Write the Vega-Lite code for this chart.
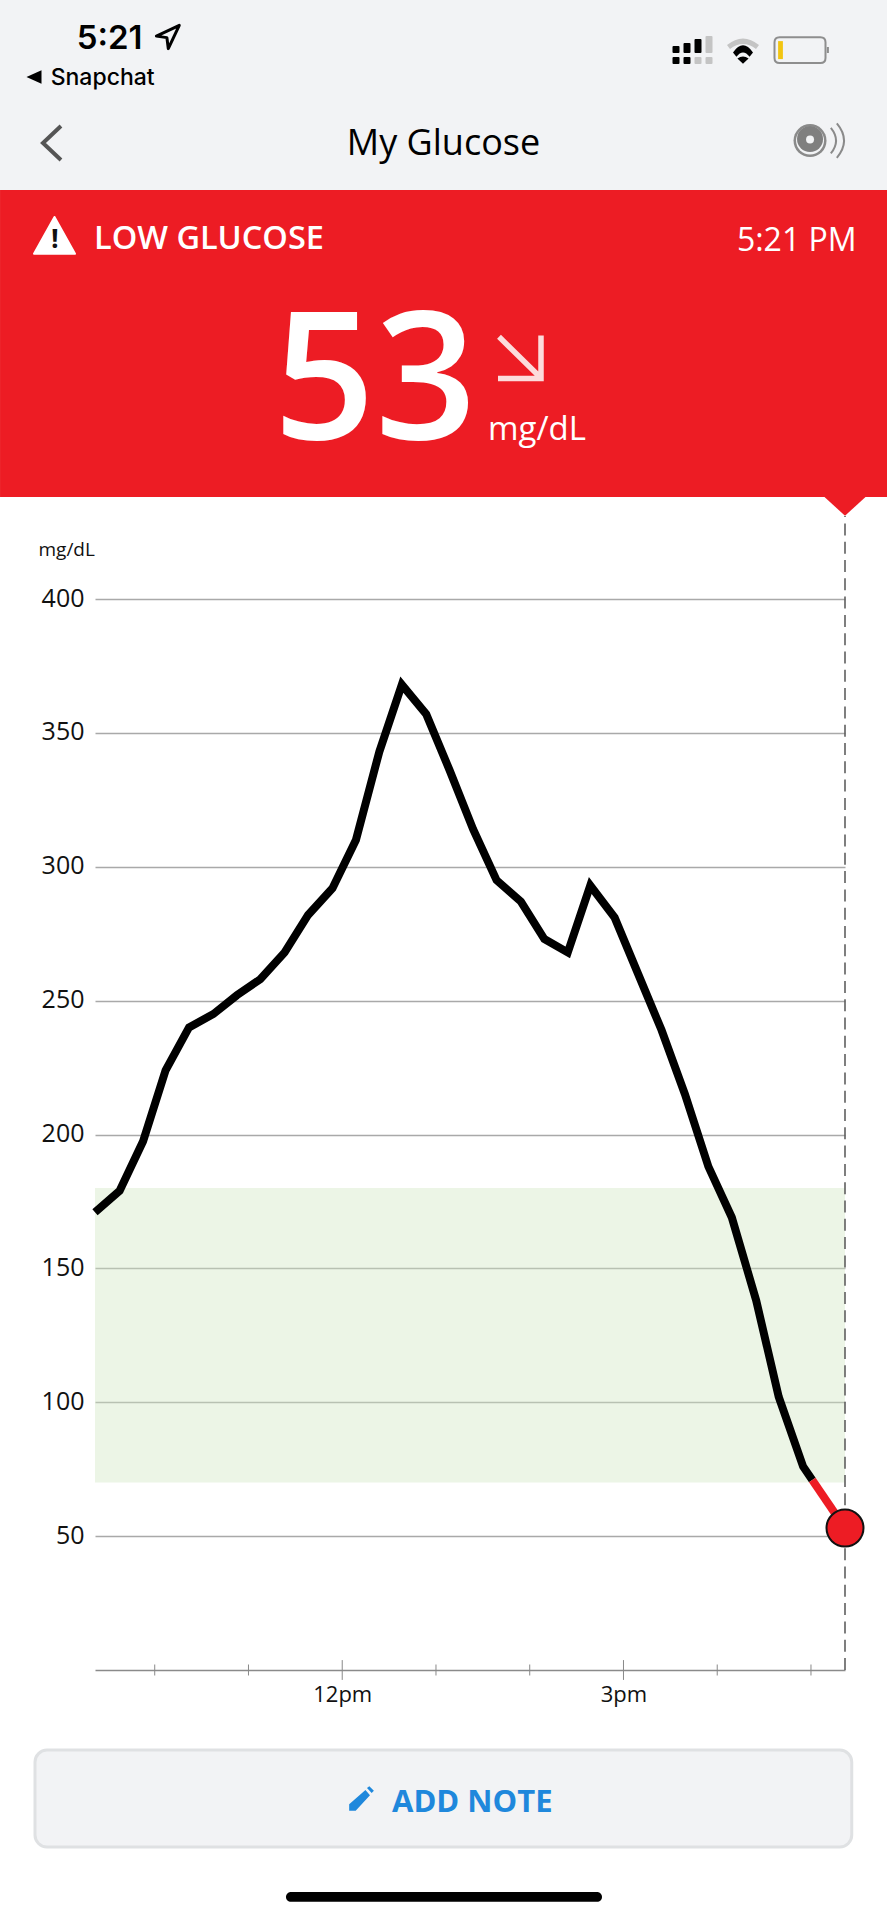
{
  "$schema": "https://vega.github.io/schema/vega-lite/v6.json",
  "width": 750,
  "height": 1071,
  "autosize": {"type": "none"},
  "padding": {"left": 95, "top": 599, "right": 42, "bottom": 249},
  "background": "white",
  "config": {"font": "Open Sans", "view": {"stroke": null}},
  "data": {"values": [{}]},
  "datasets": {
    "glucose": [
      {"hour": 9.363, "mgdl": 171, "zone": "normal"},
      {"hour": 9.626, "mgdl": 179, "zone": "normal"},
      {"hour": 9.876, "mgdl": 197.5, "zone": "normal"},
      {"hour": 10.116, "mgdl": 224, "zone": "normal"},
      {"hour": 10.366, "mgdl": 240, "zone": "normal"},
      {"hour": 10.626, "mgdl": 245, "zone": "normal"},
      {"hour": 10.876, "mgdl": 252, "zone": "normal"},
      {"hour": 11.126, "mgdl": 258, "zone": "normal"},
      {"hour": 11.386, "mgdl": 268, "zone": "normal"},
      {"hour": 11.636, "mgdl": 282, "zone": "normal"},
      {"hour": 11.896, "mgdl": 292, "zone": "normal"},
      {"hour": 12.146, "mgdl": 310, "zone": "normal"},
      {"hour": 12.396, "mgdl": 343, "zone": "normal"},
      {"hour": 12.636, "mgdl": 368, "zone": "normal"},
      {"hour": 12.896, "mgdl": 357, "zone": "normal"},
      {"hour": 13.146, "mgdl": 336, "zone": "normal"},
      {"hour": 13.396, "mgdl": 314, "zone": "normal"},
      {"hour": 13.646, "mgdl": 295, "zone": "normal"},
      {"hour": 13.906, "mgdl": 287, "zone": "normal"},
      {"hour": 14.156, "mgdl": 273, "zone": "normal"},
      {"hour": 14.406, "mgdl": 268, "zone": "normal"},
      {"hour": 14.646, "mgdl": 293, "zone": "normal"},
      {"hour": 14.906, "mgdl": 281, "zone": "normal"},
      {"hour": 15.156, "mgdl": 260, "zone": "normal"},
      {"hour": 15.406, "mgdl": 239, "zone": "normal"},
      {"hour": 15.656, "mgdl": 215, "zone": "normal"},
      {"hour": 15.906, "mgdl": 188, "zone": "normal"},
      {"hour": 16.156, "mgdl": 169, "zone": "normal"},
      {"hour": 16.416, "mgdl": 138, "zone": "normal"},
      {"hour": 16.656, "mgdl": 102, "zone": "normal"},
      {"hour": 16.916, "mgdl": 76, "zone": "normal"},
      {"hour": 17.014, "mgdl": 71, "zone": "normal"},
      {"hour": 17.014, "mgdl": 71, "zone": "low"},
      {"hour": 17.363, "mgdl": 53, "zone": "low"}
    ],
    "current": [{"hour": 17.363, "mgdl": 53}],
    "minorHours": [{"hour": 10}, {"hour": 11}, {"hour": 13}, {"hour": 14}, {"hour": 16}, {"hour": 17}],
    "majorHours": [{"hour": 12}, {"hour": 15}]
  },
  "layer": [
    {
      "mark": {"type": "rect", "color": "#f2f3f5"},
      "encoding": {
        "x": {"datum": 8.35, "scale": {"domain": [9.363, 17.363], "nice": false, "zero": false}},
        "x2": {"datum": 17.811},
        "y": {"datum": 623.7, "scale": {"domain": [0, 400], "nice": false}},
        "y2": {"datum": 552.75}
      }
    },
    {
      "mark": {"type": "rect", "color": "#ed1c24"},
      "encoding": {"x": {"datum": 8.35}, "x2": {"datum": 17.811}, "y": {"datum": 552.75}, "y2": {"datum": 438.1}}
    },
    {
      "mark": {"type": "rect", "color": "#d0e6c0", "opacity": 0.4},
      "encoding": {"x": {"datum": 9.363}, "x2": {"datum": 17.363}, "y": {"datum": 180}, "y2": {"datum": 70}}
    },
    {
      "mark": {"type": "rule", "color": "#5f5f5f", "strokeWidth": 1.6, "strokeDash": [12, 6.3]},
      "encoding": {"x": {"datum": 17.363}, "y": {"datum": 0}, "y2": {"datum": 431}}
    },
    {
      "mark": {"type": "point", "shape": "M-1,-0.46L1,-0.46L0,0.46Z", "filled": true, "color": "#ed1c24", "opacity": 1, "size": 1681},
      "encoding": {"x": {"datum": 17.363}, "y": {"datum": 434.6}}
    },
    {
      "data": {"name": "minorHours"},
      "mark": {"type": "rule", "color": "#888888", "strokeWidth": 1},
      "encoding": {"x": {"field": "hour", "type": "quantitative"}, "y": {"datum": -2.05}, "y2": {"datum": 2.05}}
    },
    {
      "data": {"name": "majorHours"},
      "mark": {"type": "rule", "color": "#888888", "strokeWidth": 1},
      "encoding": {"x": {"field": "hour", "type": "quantitative"}, "y": {"datum": -3.7}, "y2": {"datum": 3.7}}
    },
    {
      "data": {"name": "glucose"},
      "mark": {"type": "line", "strokeWidth": 8, "strokeJoin": "miter", "strokeCap": "butt"},
      "encoding": {
        "x": {
          "field": "hour",
          "type": "quantitative",
          "axis": {
            "title": null,
            "values": [12, 15],
            "labelExpr": "datum.value == 12 ? '12pm' : '3pm'",
            "grid": false,
            "ticks": false,
            "domainColor": "#8a8a8a",
            "domainWidth": 1.5,
            "labelFontSize": 22,
            "labelColor": "#111111",
            "labelPadding": 14
          }
        },
        "y": {
          "field": "mgdl",
          "type": "quantitative",
          "axis": {
            "title": "mg/dL",
            "titleAngle": 0,
            "titleAlign": "left",
            "titleBaseline": "alphabetic",
            "titleX": -57,
            "titleY": -44,
            "titleFontSize": 19,
            "titleFontWeight": "normal",
            "titleColor": "#111111",
            "values": [50, 100, 150, 200, 250, 300, 350, 400],
            "domain": false,
            "ticks": false,
            "grid": true,
            "gridColor": "#a9a9a9",
            "gridWidth": 1.5,
            "labelFontSize": 25,
            "labelColor": "#111111",
            "labelPadding": 11,
            "labelOffset": -1
          }
        },
        "color": {"field": "zone", "type": "nominal", "legend": null, "scale": {"domain": ["normal", "low"], "range": ["#000000", "#ed1c24"]}}
      }
    },
    {
      "data": {"name": "current"},
      "mark": {"type": "point", "shape": "circle", "filled": true, "fill": "#ed1c24", "stroke": "#111111", "strokeWidth": 2, "opacity": 1, "size": 1369},
      "encoding": {"x": {"field": "hour", "type": "quantitative"}, "y": {"field": "mgdl", "type": "quantitative"}}
    },
    {
      "mark": {"type": "text", "text": "5:21", "font": "Inter", "fontWeight": 600, "fontSize": 33, "align": "left", "baseline": "alphabetic", "color": "#000000"},
      "encoding": {"x": {"datum": 9.168}, "y": {"datum": 605.4}}
    },
    {
      "mark": {"type": "point", "shape": "M0.9,-0.93L-0.93,-0.07L-0.09,0.05L0.02,0.93Z", "filled": false, "stroke": "#000000", "strokeWidth": 3, "strokeJoin": "round", "opacity": 1, "size": 625},
      "encoding": {"x": {"datum": 10.142}, "y": {"datum": 609.9}}
    },
    {
      "mark": {"type": "point", "shape": "M1,-0.9L-1,0L1,0.9Z", "filled": true, "color": "#000000", "opacity": 1, "size": 225},
      "encoding": {"x": {"datum": 8.712}, "y": {"datum": 595}}
    },
    {
      "mark": {"type": "text", "text": "Snapchat", "font": "Inter", "fontWeight": 500, "fontSize": 23, "align": "left", "baseline": "alphabetic", "color": "#000000"},
      "encoding": {"x": {"datum": 8.89}, "y": {"datum": 592}}
    },
    {
      "mark": {"type": "point", "shape": "M-0.925,-0.15H-0.675V0.1H-0.925Z M-0.375,-0.3H-0.125V0.1H-0.375Z M0.175,-0.5H0.425V0.1H0.175Z M-0.925,0.4H-0.675V0.65H-0.925Z M-0.375,0.4H-0.125V0.65H-0.375Z", "filled": true, "color": "#000000", "stroke": "#000000", "strokeWidth": 2, "strokeJoin": "round", "opacity": 1, "size": 1600},
      "encoding": {"x": {"datum": 15.731}, "y": {"datum": 605}}
    },
    {
      "mark": {"type": "point", "shape": "M0.725,-0.65H0.975V0.1H0.725Z M0.175,0.4H0.425V0.65H0.175Z M0.725,0.4H0.975V0.65H0.725Z", "filled": true, "color": "#c4c4c4", "stroke": "#c4c4c4", "strokeWidth": 2, "strokeJoin": "round", "opacity": 1, "size": 1600},
      "encoding": {"x": {"datum": 15.731}, "y": {"datum": 605}}
    },
    {
      "mark": {"type": "point", "shape": "M-0.8,-0.25Q0,-0.92 0.8,-0.25L0.65,-0.05Q0,-0.55 -0.65,-0.05Z", "filled": true, "color": "#c4c4c4", "opacity": 1, "size": 1600},
      "encoding": {"x": {"datum": 16.275}, "y": {"datum": 605}}
    },
    {
      "mark": {"type": "point", "shape": "M-0.5,0.12Q0,-0.6 0.5,0.12L0.33,0.33Q0,-0.1 -0.33,0.33Z M-0.28,0.42Q0,0.22 0.28,0.42L0,0.68Z", "filled": true, "color": "#000000", "opacity": 1, "size": 1600},
      "encoding": {"x": {"datum": 16.275}, "y": {"datum": 605}}
    },
    {
      "mark": {"type": "point", "shape": "M-0.68,-0.43H0.68Q0.85,-0.43 0.85,-0.26V0.26Q0.85,0.43 0.68,0.43H-0.68Q-0.85,0.43 -0.85,0.26V-0.26Q-0.85,-0.43 -0.68,-0.43Z M0.93,-0.1V0.1", "filled": false, "stroke": "#8e8e8e", "strokeWidth": 2, "opacity": 1, "size": 3600},
      "encoding": {"x": {"datum": 16.883}, "y": {"datum": 605}}
    },
    {
      "mark": {"type": "point", "shape": "M-0.73,-0.3H-0.57V0.3H-0.73Z", "filled": true, "color": "#f2c511", "opacity": 1, "size": 3600},
      "encoding": {"x": {"datum": 16.883}, "y": {"datum": 605}}
    },
    {
      "mark": {"type": "point", "shape": "M0.45,-0.85L-0.45,0L0.45,0.85", "filled": false, "stroke": "#555555", "strokeWidth": 4, "opacity": 1, "size": 1600},
      "encoding": {"x": {"datum": 8.904}, "y": {"datum": 570.3}}
    },
    {
      "mark": {"type": "text", "text": "My Glucose", "fontSize": 36, "align": "center", "baseline": "alphabetic", "color": "#000000"},
      "encoding": {"x": {"datum": 13.08}, "y": {"datum": 565.8}}
    },
    {
      "mark": {"type": "point", "shape": "circle", "filled": true, "color": "#8a8a8a", "opacity": 1, "size": 1089},
      "encoding": {"x": {"datum": 16.99}, "y": {"datum": 571.2}}
    },
    {
      "mark": {"type": "point", "shape": "circle", "filled": true, "color": "#f2f3f5", "opacity": 1, "size": 784},
      "encoding": {"x": {"datum": 16.99}, "y": {"datum": 571.2}}
    },
    {
      "mark": {"type": "point", "shape": "circle", "filled": true, "color": "#7f7f7f", "opacity": 1, "size": 676},
      "encoding": {"x": {"datum": 16.99}, "y": {"datum": 571.8}}
    },
    {
      "mark": {"type": "point", "shape": "circle", "filled": true, "color": "#f2f3f5", "opacity": 1, "size": 64},
      "encoding": {"x": {"datum": 16.99}, "y": {"datum": 571.6}}
    },
    {
      "mark": {"type": "point", "shape": "M0.52,-0.32Q0.78,0 0.52,0.32 M0.67,-0.43Q1.03,0 0.67,0.43", "filled": false, "stroke": "#8a8a8a", "strokeWidth": 2, "opacity": 1, "size": 6400},
      "encoding": {"x": {"datum": 16.99}, "y": {"datum": 571.2}}
    },
    {
      "mark": {"type": "point", "shape": "M0,-0.9L1,0.9L-1,0.9Z", "filled": true, "color": "#ffffff", "stroke": "#ffffff", "strokeWidth": 2, "strokeJoin": "round", "opacity": 1, "size": 1681},
      "encoding": {"x": {"datum": 8.931}, "y": {"datum": 535.8}}
    },
    {
      "mark": {"type": "text", "text": "!", "fontWeight": 700, "fontSize": 27, "align": "center", "baseline": "alphabetic", "color": "#111111"},
      "encoding": {"x": {"datum": 8.936}, "y": {"datum": 531.1}}
    },
    {
      "mark": {"type": "text", "text": "LOW GLUCOSE", "fontWeight": 600, "fontSize": 32.5, "align": "left", "baseline": "alphabetic", "color": "#ffffff"},
      "encoding": {"x": {"datum": 9.352}, "y": {"datum": 530.7}}
    },
    {
      "mark": {"type": "text", "text": "5:21 PM", "fontSize": 32, "align": "right", "baseline": "alphabetic", "color": "#ffffff"},
      "encoding": {"x": {"datum": 17.486}, "y": {"datum": 530.1}}
    },
    {
      "mark": {"type": "text", "text": "53", "fontWeight": 600, "fontSize": 178, "align": "center", "baseline": "alphabetic", "color": "#ffffff"},
      "encoding": {"x": {"datum": 12.35}, "y": {"datum": 459.8}}
    },
    {
      "mark": {"type": "point", "shape": "M-0.88,-0.85L0.8,0.8 M-0.92,0.82H0.8V-0.9", "filled": false, "stroke": "#fcdcdc", "strokeWidth": 5.5, "opacity": 1, "size": 2500},
      "encoding": {"x": {"datum": 13.907}, "y": {"datum": 490}}
    },
    {
      "mark": {"type": "text", "text": "mg/dL", "fontSize": 33, "align": "left", "baseline": "alphabetic", "color": "#ffffff"},
      "encoding": {"x": {"datum": 13.555}, "y": {"datum": 459.4}}
    },
    {
      "mark": {"type": "rect", "color": "#f2f3f5", "stroke": "#dfe1e3", "strokeWidth": 3, "cornerRadius": 12},
      "encoding": {"x": {"datum": 8.723}, "x2": {"datum": 17.435}, "y": {"datum": -29.9}, "y2": {"datum": -66.1}}
    },
    {
      "mark": {"type": "point", "shape": "M-0.95,0.95V0.45L0.3,-0.65L0.65,-0.25L-0.45,0.95Z M0.42,-0.8L0.6,-0.95L0.95,-0.6L0.78,-0.42Z", "filled": true, "color": "#1f88dc", "opacity": 1, "size": 676},
      "encoding": {"x": {"datum": 12.206}, "y": {"datum": -48}}
    },
    {
      "mark": {"type": "text", "text": "ADD NOTE", "fontWeight": 700, "fontSize": 31, "align": "left", "baseline": "alphabetic", "color": "#1f88dc"},
      "encoding": {"x": {"datum": 12.531}, "y": {"datum": -52.9}}
    },
    {
      "mark": {"type": "rect", "color": "#000000", "cornerRadius": 5},
      "encoding": {"x": {"datum": 11.4}, "x2": {"datum": 14.771}, "y": {"datum": -82.9}, "y2": {"datum": -86.6}}
    }
  ]
}
